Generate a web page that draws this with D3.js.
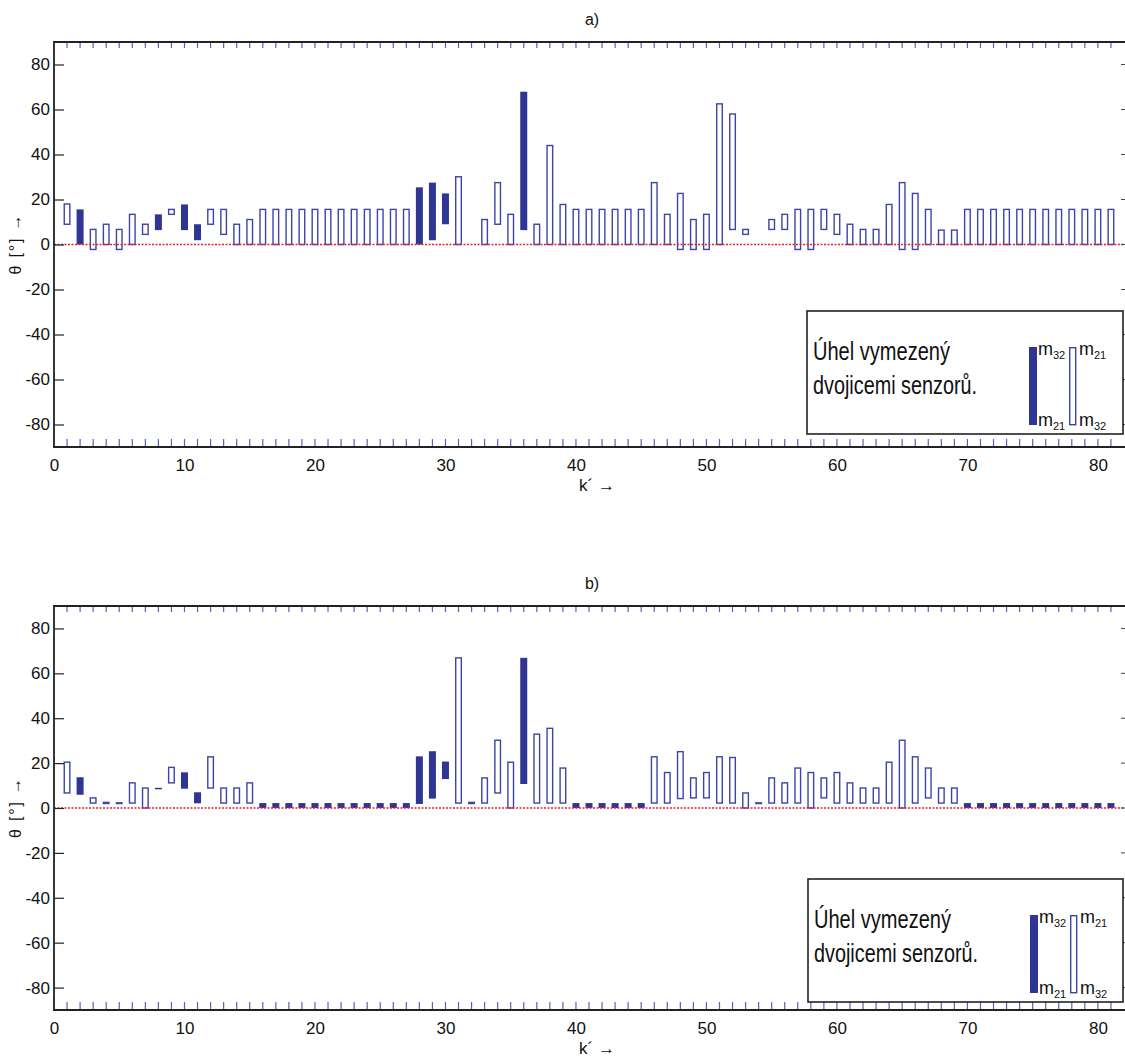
<!DOCTYPE html>
<html>
<head>
<meta charset="utf-8">
<script src="https://cdn.jsdelivr.net/npm/d3@7"></script>
<style>
  body { margin: 0; background: #fff; }
  svg { display: block; }
  text { font-family: "Liberation Sans Narrow", "Liberation Sans", Arial, sans-serif; fill: #111; }
</style>
</head>
<body>
<svg width="1125" height="1059"></svg>
<script>
// k' index of every sensor pair reading
const kValues = [1,2,3,4,5,6,7,8,9,10,11,12,13,14,15,16,17,18,19,20,21,22,23,24,25,26,27,
  28,29,30,31,32,33,34,35,36,37,38,39,40,41,42,43,44,45,46,47,48,49,50,51,52,53,54,
  55,56,57,58,59,60,61,62,63,64,65,66,67,68,69,70,71,72,73,74,75,76,77,78,79,80,81];
const xTicks = [0, 10, 20, 30, 40, 50, 60, 70, 80];
const yTicks = [-80, -60, -40, -20, 0, 20, 40, 60, 80];

// panel a): angle at m21 and at m32 (degrees), null = no bar
const a_m21 = [18, 0, 6.7, 9, 6.7, 13.4, 9, 6.4, 15.6, 6.4, 1.9, 15.6, 15.6, 9, 11.1,
  15.6, 15.6, 15.6, 15.6, 15.6, 15.6, 15.6, 15.6, 15.6, 15.6, 15.6, 15.6,
  0, 1.9, 9, 30.1, null, 11.1, 27.5, 13.4, 6.4, 9, 44, 17.8,
  15.6, 15.6, 15.6, 15.6, 15.6, 15.6,
  27.5, 13.4, 22.7, 11.1, 13.4, 62.5, 58, 6.7, null, 11.1, 13.4, 15.6, 15.6, 15.6, 13.4, 9,
  6.7, 6.7, 17.8, 27.5, 22.7, 15.6, 6.4, 6.4,
  15.6, 15.6, 15.6, 15.6, 15.6, 15.6, 15.6, 15.6, 15.6, 15.6, 15.6, 15.6];
const a_m32 = [9, 15.6, -2.2, 0, -2.2, 0, 4.5, 13.4, 13.4, 17.8, 9, 9, 4.5, 0, 0,
  0, 0, 0, 0, 0, 0, 0, 0, 0, 0, 0, 0,
  25.4, 27.5, 22.7, 0, null, 0, 9, 0, 67.9, 0, 0, 0,
  0, 0, 0, 0, 0, 0,
  0, 0, -2.2, -2.2, -2.2, 0, 6.7, 4.5, null, 6.7, 6.7, -2.2, -2.2, 6.7, 4.5, 0,
  0, 0, 0, -2.2, -2.2, 0, 0, 0,
  0, 0, 0, 0, 0, 0, 0, 0, 0, 0, 0, 0];

// panel b)
const b_m21 = [20.4, 5.9, 4.5, 2.5, 2.3, 11.2, 8.9, 8.4, 18.1, 8.6, 2.1, 22.8, 8.9, 8.9, 11.2,
  0, 0, 0, 0, 0, 0, 0, 0, 0, 0, 0, 0,
  1.8, 4.2, 12.9, 66.9, 2.5, 13.4, 30.2, 20.4, 10.7, 32.9, 35.5, 17.8,
  0, 0, 0, 0, 0, 0,
  22.8, 15.8, 25.1, 13.4, 15.8, 22.8, 22.5, 6.7, 2.3, 13.4, 11.2, 17.8, 15.8, 13.4, 15.8, 11.2,
  8.9, 8.9, 20.4, 30.2, 22.8, 17.8, 8.9, 8.9,
  0, 0, 0, 0, 0, 0, 0, 0, 0, 0, 0, 0];
const b_m32 = [6.7, 13.7, 2.2, 2, 2, 2.2, 0, 9, 11.2, 15.9, 7, 8.9, 2.2, 2.2, 2.2,
  2.2, 2.2, 2.2, 2.2, 2.2, 2.2, 2.2, 2.2, 2.2, 2.2, 2.2, 2.2,
  23, 25.3, 20.7, 2.2, 2, 2.2, 6.7, 0, 66.9, 2.2, 2.2, 2.2,
  2.2, 2.2, 2.2, 2.2, 2.2, 2.2,
  2.2, 2.2, 4.2, 4.5, 4.5, 2.2, 2.2, 0, 2, 2.2, 2.2, 2.2, 0, 4.5, 2.2, 2.2,
  2.2, 2.2, 2.2, 0, 2.2, 4.5, 2.2, 2.2,
  2.2, 2.2, 2.2, 2.2, 2.2, 2.2, 2.2, 2.2, 2.2, 2.2, 2.2, 2.2];

const svg = d3.select("svg");
const navy = "#2e3592";
const outline = "#3b45a8";
const tickBlue = "#5863b8";

const x = d3.scaleLinear().domain([0, 82]).range([54, 1124]);
const barW = 7;

const panels = [
  {title: "a)", top: 42, bottom: 447, m21: a_m21, m32: a_m32, lx: 807, ly: 311},
  {title: "b)", top: 606, bottom: 1010, m21: b_m21, m32: b_m32, lx: 808, ly: 879}
];

panels.forEach(p => {
  const y = d3.scaleLinear().domain([-90, 90]).range([p.bottom, p.top]);
  const g = svg.append("g");

  // title
  g.append("text").attr("x", 592).attr("y", p.top - 17)
    .attr("text-anchor", "middle").style("font-size", "16px").text(p.title);

  // bars
  const bars = kValues.map((k, i) => ({k, m21: p.m21[i], m32: p.m32[i]}))
    .filter(d => d.m21 !== null && d.m32 !== null);

  g.selectAll(".bar").data(bars).enter().append("rect")
    .attr("class", "bar")
    .each(function(d) {
      const lo = Math.min(d.m21, d.m32), hi = Math.max(d.m21, d.m32);
      const filled = d.m32 > d.m21;
      const sel = d3.select(this);
      if (filled) {
        sel.attr("x", x(d.k) - barW / 2).attr("width", barW)
          .attr("y", y(hi)).attr("height", Math.max(y(lo) - y(hi), 1.5))
          .attr("fill", navy);
      } else {
        sel.attr("x", x(d.k) - barW / 2 + 0.7).attr("width", barW - 1.4)
          .attr("y", y(hi)).attr("height", Math.max(y(lo) - y(hi), 0.5))
          .attr("fill", "#fff").attr("stroke", outline).attr("stroke-width", 1.4);
      }
    });

  // zero line
  g.append("line").attr("x1", x(0)).attr("x2", 1125).attr("y1", y(0)).attr("y2", y(0))
    .attr("stroke", "#e8202a").attr("stroke-width", 1.6).attr("stroke-dasharray", "2,1.5");

  // blue k ticks on top and bottom frame
  g.selectAll(".tt").data(kValues).enter().append("line")
    .attr("x1", d => x(d)).attr("x2", d => x(d))
    .attr("y1", p.top).attr("y2", p.top + 6)
    .attr("stroke", tickBlue).attr("stroke-width", 1.2);
  g.selectAll(".bt").data(kValues).enter().append("line")
    .attr("x1", d => x(d)).attr("x2", d => x(d))
    .attr("y1", p.bottom).attr("y2", p.bottom - 8)
    .attr("stroke", tickBlue).attr("stroke-width", 1.2);

  // right side ticks (clipped at page edge)
  g.selectAll(".rt").data(yTicks).enter().append("line")
    .attr("x1", 1121).attr("x2", 1125).attr("y1", d => y(d)).attr("y2", d => y(d))
    .attr("stroke", "#444").attr("stroke-width", 1);

  // left axis
  const ya = g.append("g").attr("transform", `translate(${x(0)},0)`)
    .call(d3.axisLeft(y).tickValues(yTicks).tickFormat(d => String(d))
      .tickSize(-10).tickSizeOuter(0).tickPadding(4));
  ya.select(".domain").remove();
  ya.selectAll(".tick line").attr("stroke", "#222").attr("stroke-width", 1.2);
  ya.selectAll(".tick text").style("font-size", "17px").attr("fill", "#111");

  // x axis labels
  const xa = g.append("g").attr("transform", `translate(0,${p.bottom})`)
    .call(d3.axisBottom(x).tickValues(xTicks).tickSize(0).tickPadding(12));
  xa.select(".domain").remove();
  xa.selectAll(".tick text").style("font-size", "17px").attr("fill", "#111");

  // frame
  g.append("path")
    .attr("d", `M1125,${p.top}H${x(0)}V${p.bottom}H1125`)
    .attr("fill", "none").attr("stroke", "#222").attr("stroke-width", 1.8);

  // axis titles
  g.append("text").attr("x", 597).attr("y", p.bottom + 44)
    .attr("text-anchor", "middle").style("font-size", "17px").text("k´ →");
  g.append("text")
    .attr("transform", `translate(21,${y(0)}) rotate(-90)`)
    .attr("text-anchor", "middle").style("font-size", "16px")
    .attr("textLength", 60).attr("lengthAdjust", "spacing")
    .text("θ [°] →");

  // legend
  const L = g.append("g").attr("transform", `translate(${p.lx},${p.ly})`);
  L.append("rect").attr("width", 1123 - p.lx).attr("height", 123)
    .attr("fill", "#fff").attr("stroke", "#222").attr("stroke-width", 1.6);
  L.append("text").attr("x", 6).attr("y", 49).style("font-size", "25px")
    .attr("textLength", 137).attr("lengthAdjust", "spacingAndGlyphs").text("Úhel vymezený");
  L.append("text").attr("x", 6).attr("y", 83).style("font-size", "25px")
    .attr("textLength", 164).attr("lengthAdjust", "spacingAndGlyphs").text("dvojicemi senzorů.");
  L.append("rect").attr("x", 222).attr("y", 36).attr("width", 8).attr("height", 78).attr("fill", navy);
  L.append("rect").attr("x", 262.7).attr("y", 36.7).attr("width", 6).attr("height", 77)
    .attr("fill", "#fff").attr("stroke", outline).attr("stroke-width", 1.4);
  const mlab = (lx, ly, sub) => {
    const t = L.append("text").attr("x", lx).attr("y", ly).style("font-size", "18px");
    t.append("tspan").text("m");
    t.append("tspan").attr("dy", 4).style("font-size", "11px").text(sub);
  };
  mlab(231, 44, "32");
  mlab(231, 115, "21");
  mlab(272, 44, "21");
  mlab(272, 115, "32");
});
</script>
</body>
</html>
